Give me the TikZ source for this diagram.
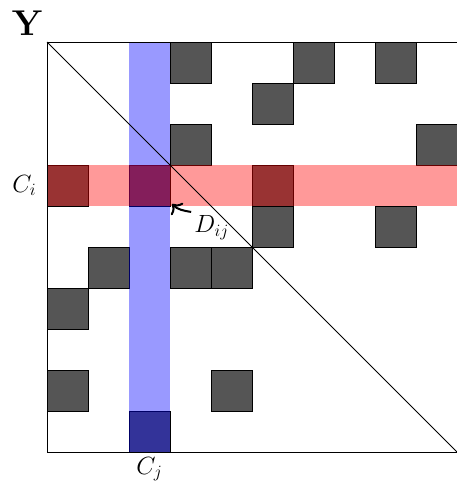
\documentclass[tikz,border=0pt]{standalone}
\usepackage{tikz}
\usetikzlibrary{arrows.meta, positioning}
\definecolor{cellgray}{RGB}{85,85,85}
\tikzset{
  cell/.style={draw=black, fill=cellgray},
  rowband/.style={fill=red, fill opacity=0.4},
  colband/.style={fill=blue, fill opacity=0.4},
  lbl/.style={font=\LARGE, inner sep=2pt},
  arrow/.style={line width=1.4pt, -{To[scale=1.2]}}
}
\begin{document}
\begin{tikzpicture}[semithick]
  \useasboundingbox (-1.146,-0.78) rectangle (10,11.025);

  % nonzero entries
  \foreach \x/\y in {3/9, 6/9, 8/9, 5/8, 3/7, 9/7, 0/6, 2/6, 5/6, 5/5, 8/5, 1/4, 3/4, 4/4, 0/3, 0/1, 4/1, 2/0}
    \draw [cell] (\x,\y) rectangle ++(1,1);

  % highlighted column and row
  \fill [colband] (2,0) rectangle (3,10);
  \fill [rowband] (0,6) rectangle (10,7);

  % frame and diagonal
  \draw (10,10) -- (0,10) -- (0,0) -- (10,0);
  \draw (0,10) -- (10,0);

  \node (ylabel) at (-0.47,10.47) {\fontsize{32}{38}\selectfont $\mathbf{Y}$};
  \node (rowlabel) [lbl] at (-0.55,6.5) {$C_i$};
  \node (collabel) [lbl] at (2.5,-0.42) {$C_j$};
  \node (dlabel) [lbl] at (4.02,5.48) {$D_{ij}$};
  \coordinate (dcorner) at (3.05,6.05);

  \draw [arrow] (dlabel.north west) to[out=170, in=-45] (dcorner);

\end{tikzpicture}
\end{document}
